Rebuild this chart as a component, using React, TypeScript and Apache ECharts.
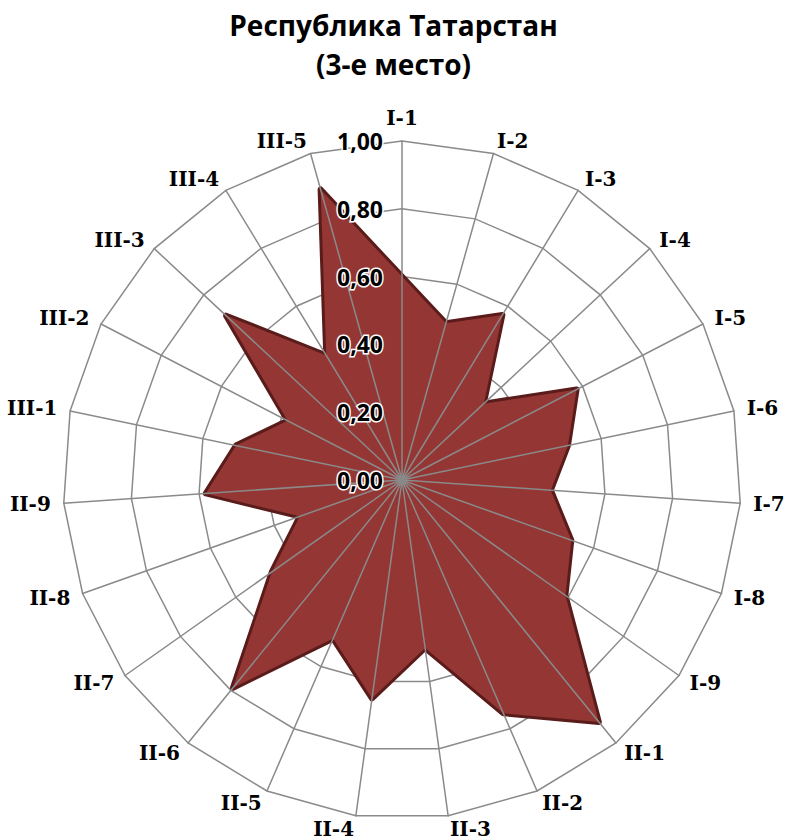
import React, { useEffect, useRef } from 'react';
import * as echarts from 'echarts';

const categories = [
  'I-1', 'I-2', 'I-3', 'I-4', 'I-5', 'I-6', 'I-7', 'I-8', 'I-9',
  'II-1', 'II-2', 'II-3', 'II-4', 'II-5', 'II-6', 'II-7', 'II-8', 'II-9',
  'III-1', 'III-2', 'III-3', 'III-4', 'III-5',
];
const values = [
  0.60, 0.48, 0.57, 0.33, 0.58, 0.50, 0.44, 0.53, 0.59,
  0.92, 0.75, 0.50, 0.65, 0.51, 0.79, 0.47, 0.32, 0.58,
  0.50, 0.38, 0.71, 0.43, 0.89,
];
const scaleMin = 0;
const scaleMax = 1;
const scaleSplits = 5;
const titleLines = ['Республика Татарстан', '(3-е место)'];

// ECharts lays radar indicators counter-clockwise; the reference runs clockwise.
function clockwiseOrder<T>(arr: T[]): T[] {
  return [arr[0], ...arr.slice(1).reverse()];
}

export default function App() {
  const ref = useRef<HTMLDivElement>(null);
  useEffect(() => {
    if (!ref.current) return;
    const chart = echarts.init(ref.current, null, { renderer: 'svg' });
    const names = clockwiseOrder(categories);
    const vals = clockwiseOrder(values);
    const gridColor = '#8a8a8a';
    const center = [402, 480];
    const radius = 339;
    chart.setOption({
      animation: false,
      backgroundColor: '#ffffff',
      title: {
        text: titleLines.join('\n'),
        left: 'center',
        top: 0,
        textStyle: {
          fontFamily: 'Open Sans',
          fontWeight: 'bold',
          fontSize: 28,
          lineHeight: 39,
          color: '#000',
        },
      },
      radar: [
        {
          z: 0,
          center,
          radius,
          startAngle: 90,
          shape: 'polygon',
          splitNumber: scaleSplits,
          indicator: names.map((n) => ({ name: n, min: scaleMin, max: scaleMax })),
          axisName: {
            color: '#000',
            fontFamily: 'DejaVu Serif',
            fontWeight: 'bold',
            fontSize: 20,
          },
          nameGap: 13,
          splitLine: { show: true, lineStyle: { color: gridColor, width: 1.5 } },
          splitArea: { show: false },
          axisLine: { show: false },
          axisTick: { show: false },
          axisLabel: { show: false },
        },
        {
          z: 3,
          center,
          radius,
          startAngle: 90,
          shape: 'polygon',
          splitNumber: scaleSplits,
          indicator: names.map((n, i) => ({
            name: n,
            min: scaleMin,
            max: scaleMax,
            ...(i === 0 ? { axisLabel: { show: true } } : {}),
          })),
          axisName: { show: false },
          splitLine: { show: false },
          splitArea: { show: false },
          axisLine: { show: true, lineStyle: { color: gridColor, width: 1.5 } },
          axisTick: { show: false },
          axisLabel: {
            show: false,
            margin: 19,
            formatter: (v: number) => v.toFixed(2).replace('.', ','),
            color: '#000',
            fontFamily: 'Open Sans',
            fontWeight: 'bold',
            fontSize: 23,
            textBorderColor: '#ffffff',
            textBorderWidth: 3,
          },
        },
      ],
      series: [
        {
          type: 'radar',
          radarIndex: 0,
          z: 2,
          symbol: 'none',
          lineStyle: { color: '#5a1c1a', width: 6 },
          areaStyle: { color: '#943634', opacity: 1 },
          data: [{ value: vals, name: titleLines[0] }],
        },
      ],
    });
    return () => chart.dispose();
  }, []);
  return (
    <div
      ref={ref}
      style={{ position: 'fixed', left: 0, top: 0, width: 787, height: 840 }}
    />
  );
}
